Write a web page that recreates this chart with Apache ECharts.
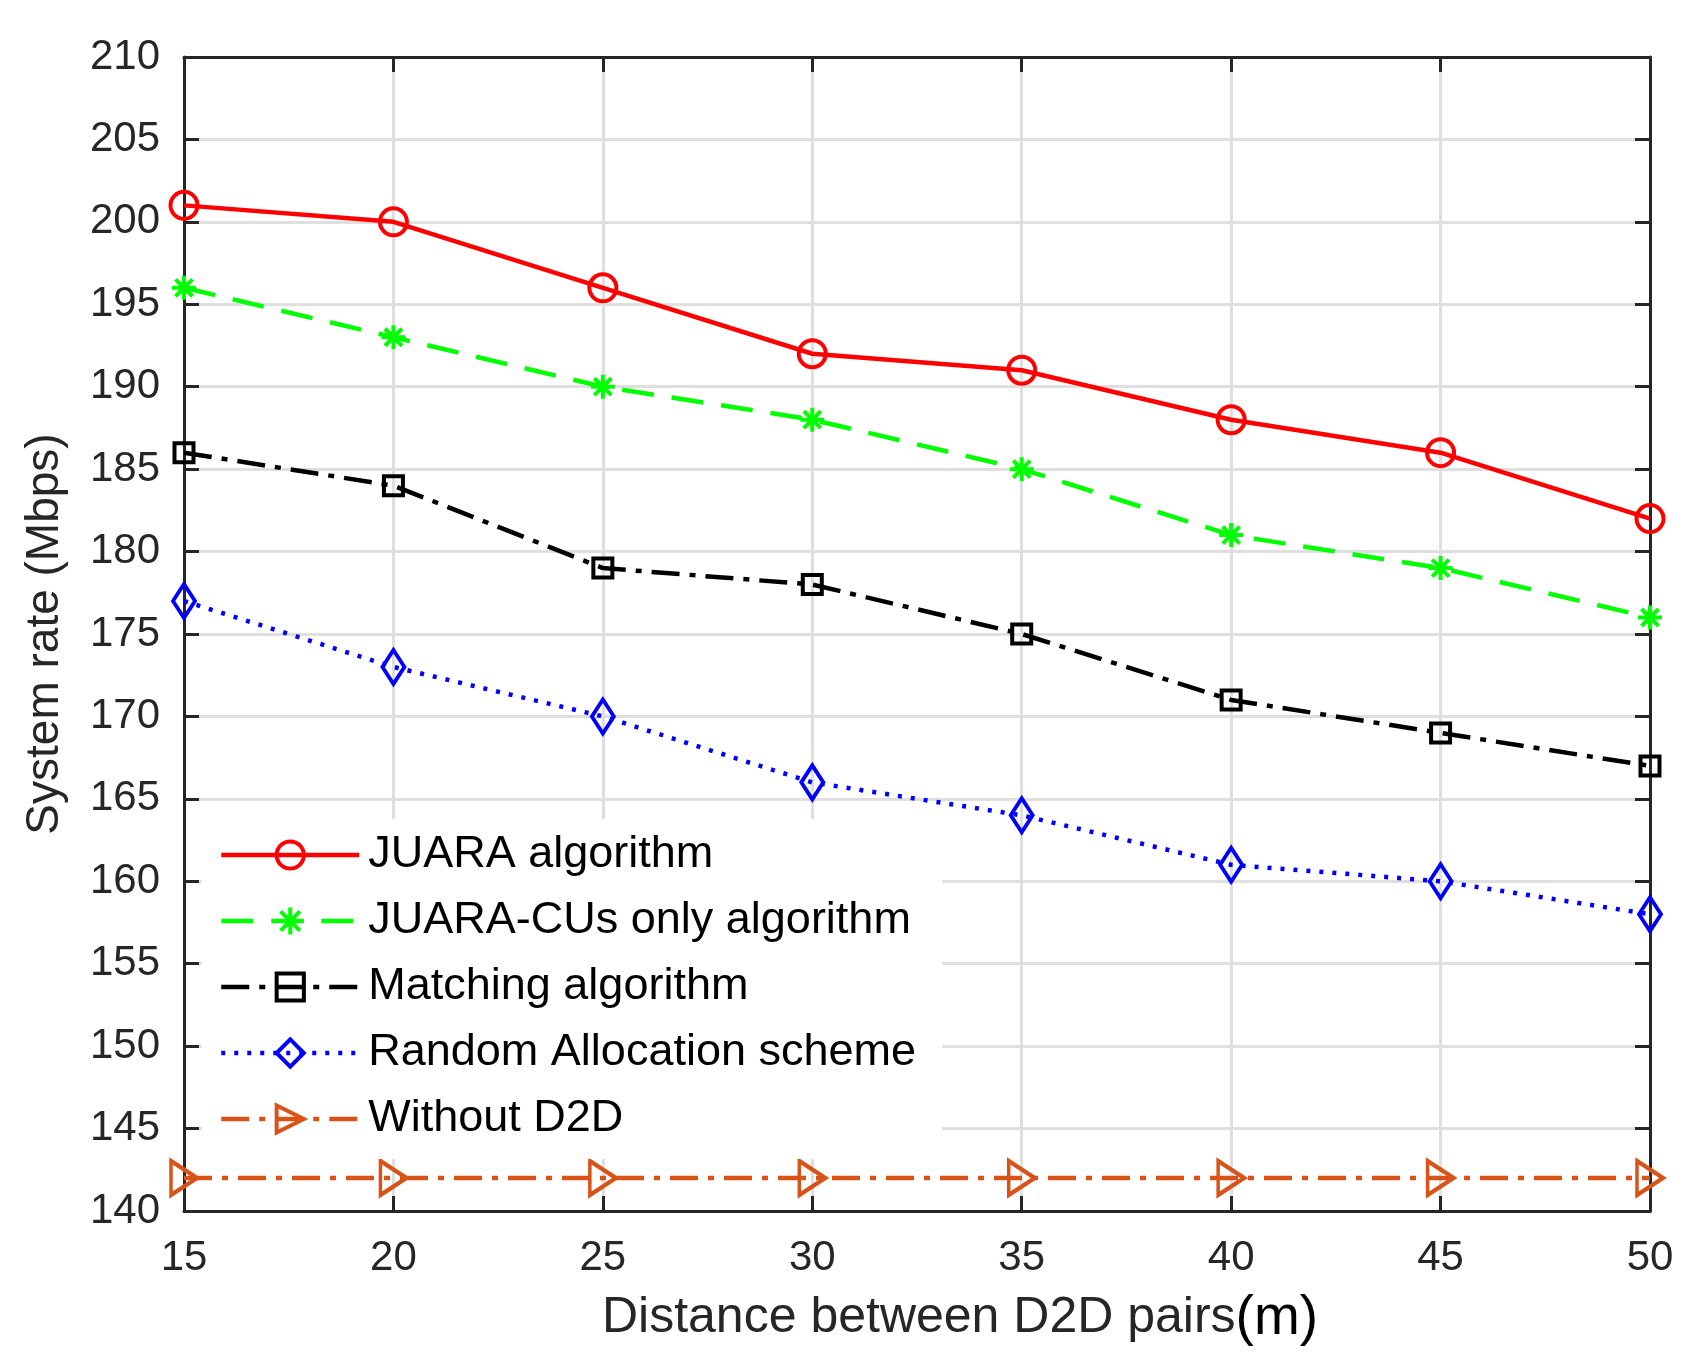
<!DOCTYPE html>
<html>
<head>
<meta charset="utf-8">
<script src="https://cdn.jsdelivr.net/npm/echarts@6/dist/echarts.min.js"></script>
<style>
  html, body { margin: 0; padding: 0; background: #fff; }
  #chart { width: 1702px; height: 1365px; }
</style>
</head>
<body>
<div id="chart"></div>
<script>
// distance between D2D pairs (m)
var distances = [15, 20, 25, 30, 35, 40, 45, 50];

// system rate (Mbps)
var juara = [201, 200, 196, 192, 191, 188, 186, 182];
var juaraCus = [196, 193, 190, 188, 185, 181, 179, 176];
var matching = [186, 184, 179, 178, 175, 171, 169, 167];
var randomAlloc = [177, 173, 170, 166, 164, 161, 160, 158];
var withoutD2D = [142, 142, 142, 142, 142, 142, 142, 142];

var seriesNames = ['JUARA algorithm', 'JUARA-CUs only algorithm', 'Matching algorithm',
  'Random Allocation scheme', 'Without D2D'];

var fontName = '"Liberation Sans", Arial, Helvetica, sans-serif';
var axisColor = '#262626';
var asterisk = 'path://M0,-10L0,10M-10,0L10,0M-7.07,-7.07L7.07,7.07M-7.07,7.07L7.07,-7.07';

function toPoints(values) {
  var pts = [];
  for (var i = 0; i < values.length; ++i) {
    pts.push([distances[i], values[i]]);
  }
  return pts;
}

function makeSeries(name, values, color, lineType, symbol, size, rotate) {
  return {
    name: name,
    type: 'line',
    data: toPoints(values),
    clip: false,
    symbol: symbol,
    symbolSize: size,
    symbolRotate: rotate || 0,
    lineStyle: { color: color, width: 4.5, type: lineType },
    itemStyle: { color: 'transparent', borderColor: color, borderWidth: 4 },
    emphasis: { disabled: true }
  };
}

var xAxisBase = {
  type: 'value',
  min: 15,
  max: 50,
  interval: 5,
  axisLine: { show: true, lineStyle: { color: axisColor, width: 3 } },
  axisTick: { show: true, inside: true, length: 15, lineStyle: { color: axisColor, width: 3 } }
};

var yAxisBase = {
  type: 'value',
  min: 140,
  max: 210,
  interval: 5,
  axisLine: { show: true, lineStyle: { color: axisColor, width: 3 } },
  axisTick: { show: true, inside: true, length: 15, lineStyle: { color: axisColor, width: 3 } }
};

var chart = echarts.init(document.getElementById('chart'), null, { renderer: 'canvas' });

var option = {
  backgroundColor: '#fff',
  animation: false,
  textStyle: { fontFamily: fontName },
  grid: { left: 184, right: 52, top: 57, bottom: 154 },
  legend: {
    orient: 'vertical',
    left: 202,
    top: 819,
    padding: [13, 26, 17, 17],
    backgroundColor: '#fff',
    itemWidth: 138,
    itemHeight: 34,
    itemGap: 20,
    itemStyle: { borderWidth: 4 },
    lineStyle: { width: 4.5 },
    data: seriesNames,
    textStyle: { color: '#000', fontSize: 45, lineHeight: 46, fontFamily: fontName, padding: [0, 0, 0, 4] },
    selectedMode: false
  },
  xAxis: [
    Object.assign({}, xAxisBase, {
      position: 'bottom',
      name: '{a|Distance between D2D pairs}{b|(m)}',
      nameLocation: 'middle',
      nameGap: 80,
      nameTextStyle: {
        padding: [0, 0, 0, 86],
        rich: {
          a: { color: axisColor, fontSize: 50, fontFamily: fontName },
          b: { color: '#000', fontSize: 55, fontFamily: fontName }
        }
      },
      axisLabel: { color: axisColor, fontSize: 42, margin: 26, fontFamily: fontName },
      splitLine: { show: true, lineStyle: { color: '#dfdfdf', width: 3 } }
    }),
    Object.assign({}, xAxisBase, {
      position: 'top',
      axisLabel: { show: false },
      splitLine: { show: false }
    })
  ],
  yAxis: [
    Object.assign({}, yAxisBase, {
      position: 'left',
      name: 'System rate (Mbps)',
      nameLocation: 'middle',
      nameGap: 116,
      nameTextStyle: { color: axisColor, fontSize: 46, fontFamily: fontName },
      axisLabel: { color: axisColor, fontSize: 42, margin: 24, fontFamily: fontName },
      splitLine: { show: true, lineStyle: { color: '#dfdfdf', width: 3 } }
    }),
    Object.assign({}, yAxisBase, {
      position: 'right',
      axisLabel: { show: false },
      splitLine: { show: false }
    })
  ],
  series: [
    makeSeries(seriesNames[0], juara, '#ff0000', 'solid', 'circle', 27),
    makeSeries(seriesNames[1], juaraCus, '#00ff00', [32, 18], asterisk, 24),
    makeSeries(seriesNames[2], matching, '#000000', [28, 10, 6, 10], 'rect', 19),
    makeSeries(seriesNames[3], randomAlloc, '#0000ff', [4, 9], 'diamond', [22, 34]),
    makeSeries(seriesNames[4], withoutD2D, '#d95319', [28, 10, 6, 10], 'triangle', [34, 26], -90)
  ]
};

chart.setOption(option);
</script>
</body>
</html>
